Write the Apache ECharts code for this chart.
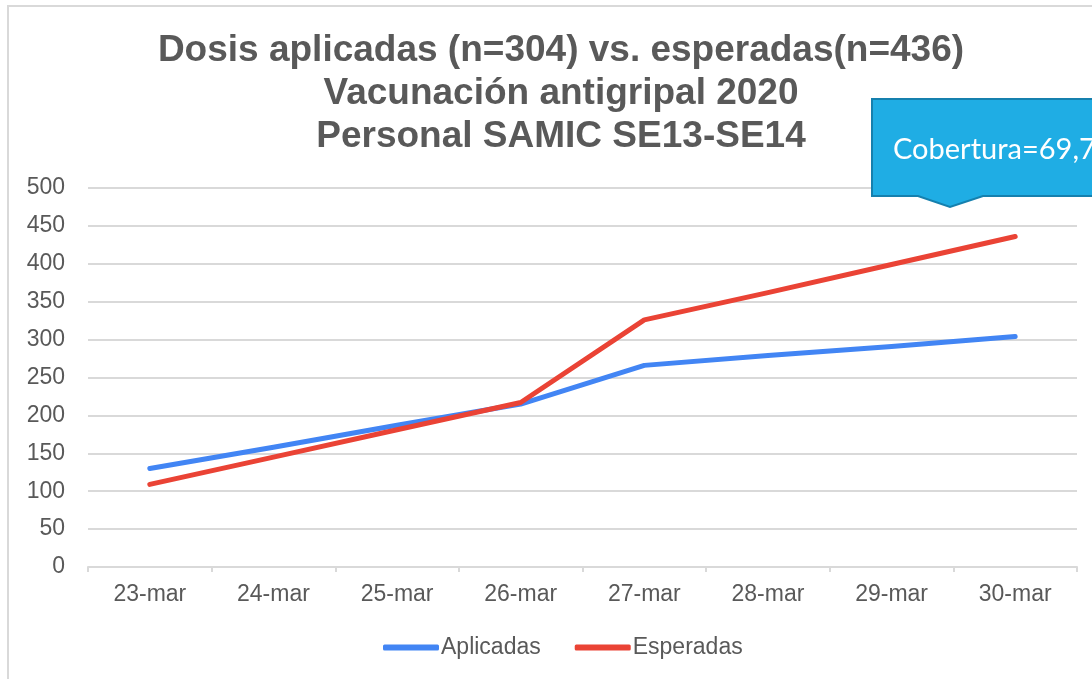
<!DOCTYPE html>
<html>
<head>
<meta charset="utf-8">
<script src="https://cdn.jsdelivr.net/npm/echarts@6/dist/echarts.min.js"></script>
<style>
  html, body { margin: 0; padding: 0; background: #fff; }
  #chart { width: 1092px; height: 679px; }
</style>
</head>
<body>
<div id="chart"></div>
<script>
const days = ["23-mar", "24-mar", "25-mar", "26-mar", "27-mar", "28-mar", "29-mar", "30-mar"];
const aplicadas = [130, 158, 187, 215, 266, 279, 291, 304];
const esperadas = [109, 145, 181, 217, 326, 362, 399, 436];
const titleLines = ["Dosis aplicadas (n=304) vs. esperadas(n=436)", "Vacunación antigripal 2020", "Personal SAMIC SE13-SE14"];
const calloutText = "Cobertura=69,7%";

const grey = "#595959";
const chart = echarts.init(document.getElementById("chart"));

chart.setOption({
  animation: false,
  title: {
    text: titleLines.join("\n"),
    left: 556,
    top: 24,
    textAlign: "center",
    textStyle: {
      fontFamily: "Liberation Sans",
      fontWeight: "bold",
      fontSize: 37,
      lineHeight: 43,
      color: grey
    }
  },
  grid: { left: 88, right: 15, top: 188, bottom: 112 },
  legend: {
    bottom: 15,
    left: 378,
    itemGap: 34,
    itemWidth: 56,
    itemHeight: 6,
    icon: "roundRect",
    textStyle: { fontFamily: "Liberation Sans", fontSize: 23, color: grey, padding: [0, 0, 0, -3] },
    data: ["Aplicadas", "Esperadas"]
  },
  xAxis: {
    type: "category",
    data: days,
    boundaryGap: true,
    axisLine: { lineStyle: { color: "#d9d9d9", width: 2 } },
    axisTick: { show: true, length: 5, lineStyle: { color: "#d9d9d9", width: 2 } },
    axisLabel: { fontFamily: "Liberation Sans", fontSize: 23, color: grey, margin: 16 }
  },
  yAxis: {
    type: "value",
    min: 0,
    max: 500,
    interval: 50,
    axisLine: { show: false },
    axisTick: { show: false },
    axisLabel: { fontFamily: "Liberation Sans", fontSize: 23, color: grey, margin: 23 },
    splitLine: { lineStyle: { color: "#d9d9d9", width: 2 } }
  },
  series: [
    {
      name: "Aplicadas",
      type: "line",
      data: aplicadas,
      showSymbol: false,
      color: "#4285F4",
      lineStyle: { width: 5, cap: "round", join: "round" }
    },
    {
      name: "Esperadas",
      type: "line",
      data: esperadas,
      showSymbol: false,
      color: "#EA4335",
      lineStyle: { width: 5, cap: "round", join: "round" }
    }
  ],
  graphic: [
    {
      type: "rect",
      shape: { x: 8, y: 6, width: 1200, height: 800 },
      style: { fill: "none", stroke: "#d9d9d9", lineWidth: 2 },
      silent: true,
      z: -10
    },
    {
      type: "polygon",
      shape: {
        points: [[872, 99], [1110, 99], [1110, 196], [983, 196], [950, 207], [918, 196], [872, 196]]
      },
      style: { fill: "#1FADE4", stroke: "#1580AE", lineWidth: 2 },
      z: 10
    },
    {
      type: "text",
      x: 893,
      y: 150,
      style: {
        text: calloutText,
        fill: "#fff",
        fontFamily: "Lato",
        fontSize: 29,
        verticalAlign: "middle"
      },
      z: 11
    }
  ]
});
</script>
</body>
</html>
